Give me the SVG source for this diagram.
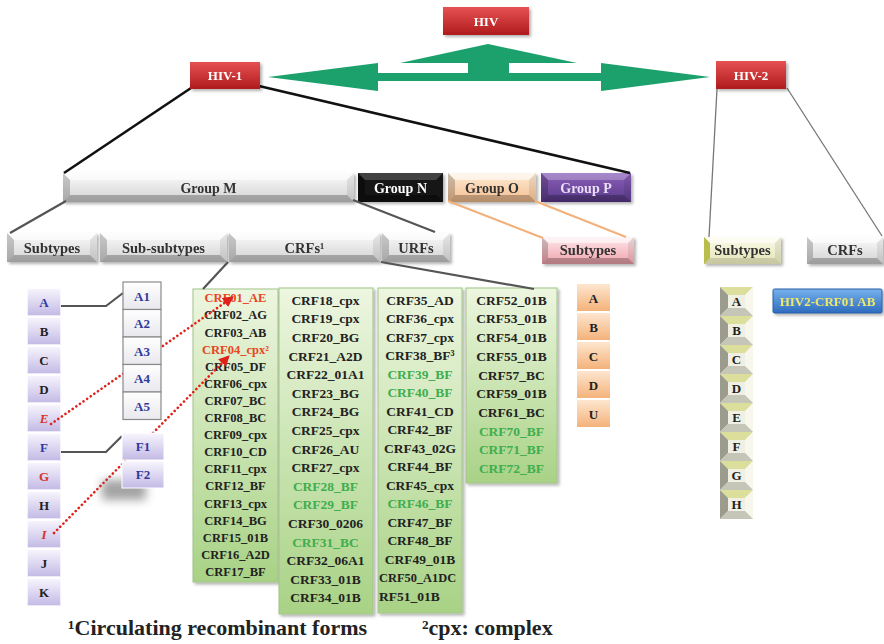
<svg xmlns="http://www.w3.org/2000/svg" xmlns:xlink="http://www.w3.org/1999/xlink" width="884" height="644" viewBox="0 0 884 644">
<style>
text{font-family:"Liberation Serif","Times New Roman",serif;font-weight:bold;text-anchor:middle}
.lb{font-size:14px;fill:#333}
.l2{font-size:14.5px;fill:#333}
.wh{fill:#fff}
.ltr{font-size:13px;fill:#222}
.blu{fill:#2f3a9e}
.red{fill:#d8322a}
.c1{font-size:12.5px;fill:#222}
.c2{font-size:13.5px;fill:#222}
.gr{fill:#3fae4e}
.or{fill:#e8461e}
.wt{fill:#fff;fill-opacity:.55}
.wl{fill:#000;fill-opacity:.2}
.wr{fill:#000;fill-opacity:.08}
.wb{fill:#000;fill-opacity:.25}
.ln{fill:none;stroke:#555;stroke-width:2.2}
.blk{fill:none;stroke:#111;stroke-width:2.6}
.thin{fill:none;stroke:#777;stroke-width:1.3}
.orl{fill:none;stroke:#f2b07a;stroke-width:2}
.dot{fill:none;stroke:#e0201a;stroke-width:2.6;stroke-dasharray:0.1 4.3;stroke-linecap:round}
.foot{font-size:22px;fill:#222;text-anchor:start}
</style>
<defs>
<linearGradient id="gRed" x1="0" y1="0" x2="0" y2="1"><stop offset="0" stop-color="#e65252"/><stop offset="1" stop-color="#b01a1c"/></linearGradient>
<linearGradient id="gGray" x1="0" y1="0" x2="0" y2="1"><stop offset="0" stop-color="#fbfbfb"/><stop offset="1" stop-color="#d2d2d2"/></linearGradient>
<linearGradient id="gPeach" x1="0" y1="0" x2="0" y2="1"><stop offset="0" stop-color="#fdecd8"/><stop offset="1" stop-color="#f5bd8c"/></linearGradient>
<linearGradient id="gPurple" x1="0" y1="0" x2="0" y2="1"><stop offset="0" stop-color="#8a60b8"/><stop offset="1" stop-color="#5a398b"/></linearGradient>
<linearGradient id="gPink" x1="0" y1="0" x2="0" y2="1"><stop offset="0" stop-color="#fde8ea"/><stop offset="1" stop-color="#f0a2ac"/></linearGradient>
<linearGradient id="gOlive" x1="0" y1="0" x2="0" y2="1"><stop offset="0" stop-color="#fbfbea"/><stop offset="1" stop-color="#e3e3b6"/></linearGradient>
<linearGradient id="gOrange" x1="0" y1="0" x2="0" y2="1"><stop offset="0" stop-color="#fde6cf"/><stop offset="1" stop-color="#f4b27a"/></linearGradient>
<linearGradient id="gLav" x1="0" y1="0" x2="0" y2="1"><stop offset="0" stop-color="#f8f6fd"/><stop offset="1" stop-color="#c3b9e5"/></linearGradient>
<linearGradient id="gGreen" x1="0" y1="0" x2="0" y2="1"><stop offset="0" stop-color="#edf6e0"/><stop offset="1" stop-color="#a8d285"/></linearGradient>
<linearGradient id="gBlue" x1="0" y1="0" x2="0" y2="1"><stop offset="0" stop-color="#78b2ec"/><stop offset="1" stop-color="#2d6bbe"/></linearGradient>
<linearGradient id="gWhite" x1="0" y1="0" x2="0" y2="1"><stop offset="0" stop-color="#ffffff"/><stop offset="1" stop-color="#e8e8ee"/></linearGradient>
<filter id="sh" x="-20%" y="-20%" width="150%" height="150%"><feDropShadow dx="2" dy="2" stdDeviation="1.5" flood-color="#000" flood-opacity=".3"/></filter>
<filter id="blur" x="-50%" y="-50%" width="200%" height="200%"><feGaussianBlur stdDeviation="5"/></filter>
<marker id="arr" viewBox="0 0 10 10" refX="9" refY="5" markerWidth="11" markerHeight="11" markerUnits="userSpaceOnUse" orient="auto"><path d="M0,0L10,5L0,10z" fill="#e0201a"/></marker>
<g id="tile">
<rect width="33" height="29" fill="#efefe3"/>
<polygon points="0,0 33,0 25,8 8,8" fill="#dcdf9c"/>
<polygon points="0,0 8,8 8,21 0,29" fill="#9b9b8e"/>
<polygon points="33,0 33,29 25,21 25,8" fill="#f7f7ee"/>
<polygon points="0,29 8,21 25,21 33,29" fill="#c6c6b8"/>
</g>
<g id="lav"><rect width="34" height="28" fill="url(#gLav)"/><rect x="0.5" y="0.5" width="33" height="27" fill="none" stroke="#fff" stroke-opacity=".7"/></g>
<g id="org"><rect width="33" height="27" fill="url(#gOrange)"/></g>
</defs>

<rect width="884" height="644" fill="#fff"/>

<!-- CRF columns -->
<g id="crf-col1">
<rect x="193" y="289" width="85" height="293" fill="url(#gGreen)" stroke="#a2c488" filter="url(#sh)"/>
<text class="c1 or" x="235.5" y="302.3">CRF01_AE</text>
<text class="c1" x="235.5" y="319.4">CRF02_AG</text>
<text class="c1" x="235.5" y="336.5">CRF03_AB</text>
<text class="c1 or" x="235.5" y="353.6">CRF04_cpx²</text>
<text class="c1" x="235.5" y="370.7">CRF05_DF</text>
<text class="c1" x="235.5" y="387.8">CRF06_cpx</text>
<text class="c1" x="235.5" y="404.9">CRF07_BC</text>
<text class="c1" x="235.5" y="422">CRF08_BC</text>
<text class="c1" x="235.5" y="439.1">CRF09_cpx</text>
<text class="c1" x="235.5" y="456.2">CRF10_CD</text>
<text class="c1" x="235.5" y="473.3">CRF11_cpx</text>
<text class="c1" x="235.5" y="490.4">CRF12_BF</text>
<text class="c1" x="235.5" y="507.5">CRF13_cpx</text>
<text class="c1" x="235.5" y="524.6">CRF14_BG</text>
<text class="c1" x="235.5" y="541.7">CRF15_01B</text>
<text class="c1" x="235.5" y="558.8">CRF16_A2D</text>
<text class="c1" x="235.5" y="575.9">CRF17_BF</text>
</g>
<g id="crf-col2">
<rect x="279" y="288" width="94" height="326" fill="url(#gGreen)" stroke="#a2c488" filter="url(#sh)"/>
<text class="c2" x="325.5" y="304.7">CRF18_cpx</text>
<text class="c2" x="325.5" y="323.3">CRF19_cpx</text>
<text class="c2" x="325.5" y="341.9">CRF20_BG</text>
<text class="c2" x="325.5" y="360.5">CRF21_A2D</text>
<text class="c2" x="325.5" y="379.1">CRF22_01A1</text>
<text class="c2" x="325.5" y="397.7">CRF23_BG</text>
<text class="c2" x="325.5" y="416.3">CRF24_BG</text>
<text class="c2" x="325.5" y="434.9">CRF25_cpx</text>
<text class="c2" x="325.5" y="453.5">CRF26_AU</text>
<text class="c2" x="325.5" y="472.1">CRF27_cpx</text>
<text class="c2 gr" x="325.5" y="490.7">CRF28_BF</text>
<text class="c2 gr" x="325.5" y="509.3">CRF29_BF</text>
<text class="c2" x="325.5" y="527.9">CRF30_0206</text>
<text class="c2 gr" x="325.5" y="546.5">CRF31_BC</text>
<text class="c2" x="325.5" y="565.1">CRF32_06A1</text>
<text class="c2" x="325.5" y="583.7">CRF33_01B</text>
<text class="c2" x="325.5" y="602.3">CRF34_01B</text>
</g>
<g id="crf-col3">
<rect x="378" y="288" width="84" height="325" fill="url(#gGreen)" stroke="#a2c488" filter="url(#sh)"/>
<text class="c2" x="420" y="304.7">CRF35_AD</text>
<text class="c2" x="420" y="323.2">CRF36_cpx</text>
<text class="c2" x="420" y="341.7">CRF37_cpx</text>
<text class="c2" x="420" y="360.2">CRF38_BF³</text>
<text class="c2 gr" x="420" y="378.7">CRF39_BF</text>
<text class="c2 gr" x="420" y="397.2">CRF40_BF</text>
<text class="c2" x="420" y="415.7">CRF41_CD</text>
<text class="c2" x="420" y="434.2">CRF42_BF</text>
<text class="c2" x="420" y="452.7">CRF43_02G</text>
<text class="c2" x="420" y="471.2">CRF44_BF</text>
<text class="c2" x="420" y="489.7">CRF45_cpx</text>
<text class="c2 gr" x="420" y="508.2">CRF46_BF</text>
<text class="c2" x="420" y="526.7">CRF47_BF</text>
<text class="c2" x="420" y="545.2">CRF48_BF</text>
<text class="c2" x="420" y="563.7">CRF49_01B</text>
<text class="c2" x="379" y="582.2" style="text-anchor:start;font-size:12.4px">CRF50_A1DC</text>
<text class="c2" x="379" y="600.7" style="text-anchor:start">RF51_01B</text>
</g>
<g id="crf-col4">
<rect x="466" y="288" width="91" height="195" fill="url(#gGreen)" stroke="#a2c488" filter="url(#sh)"/>
<text class="c2" x="511.5" y="304.7">CRF52_01B</text>
<text class="c2" x="511.5" y="323.4">CRF53_01B</text>
<text class="c2" x="511.5" y="342.1">CRF54_01B</text>
<text class="c2" x="511.5" y="360.8">CRF55_01B</text>
<text class="c2" x="511.5" y="379.5">CRF57_BC</text>
<text class="c2" x="511.5" y="398.2">CRF59_01B</text>
<text class="c2" x="511.5" y="416.9">CRF61_BC</text>
<text class="c2 gr" x="511.5" y="435.6">CRF70_BF</text>
<text class="c2 gr" x="511.5" y="454.3">CRF71_BF</text>
<text class="c2 gr" x="511.5" y="473">CRF72_BF</text>
</g>

<!-- Group row -->
<g id="group-m" filter="url(#sh)">
<rect x="63" y="173" width="291" height="29" fill="url(#gGray)"/>
<polygon class="wt" points="63,173 354,173 347,180 70,180"/>
<polygon class="wl" points="63,173 70,180 70,195 63,202"/>
<polygon class="wr" points="354,173 354,202 347,195 347,180"/>
<polygon class="wb" points="63,202 70,195 347,195 354,202"/>
<text class="lb" x="208.5" y="192.5">Group M</text>
</g>
<g id="group-n" filter="url(#sh)">
<rect x="358" y="173" width="85" height="29" fill="#151515"/>
<polygon class="wt" style="fill-opacity:.2" points="358,173 443,173 436,180 365,180"/>
<polygon class="wl" points="358,173 365,180 365,195 358,202"/>
<polygon class="wr" points="443,173 443,202 436,195 436,180"/>
<polygon class="wb" points="358,202 365,195 436,195 443,202"/>
<text class="lb wh" x="400.5" y="192.5">Group N</text>
</g>
<g id="group-o" filter="url(#sh)">
<rect x="448" y="173" width="88" height="29" fill="url(#gPeach)"/>
<polygon class="wt" points="448,173 536,173 529,180 455,180"/>
<polygon class="wl" points="448,173 455,180 455,195 448,202"/>
<polygon class="wr" points="536,173 536,202 529,195 529,180"/>
<polygon class="wb" points="448,202 455,195 529,195 536,202"/>
<text class="lb" x="492" y="192.5">Group O</text>
</g>
<g id="group-p" filter="url(#sh)">
<rect x="541" y="173" width="90" height="29" fill="url(#gPurple)"/>
<polygon class="wt" style="fill-opacity:.25" points="541,173 631,173 624,180 548,180"/>
<polygon class="wl" points="541,173 548,180 548,195 541,202"/>
<polygon class="wr" points="631,173 631,202 624,195 624,180"/>
<polygon class="wb" points="541,202 548,195 624,195 631,202"/>
<text class="lb" style="fill:#e8dff5" x="586" y="192.5">Group P</text>
</g>

<!-- second row -->
<g id="m-subtypes" filter="url(#sh)">
<rect x="7" y="233" width="90" height="29" fill="url(#gGray)"/>
<polygon class="wt" points="7,233 97,233 90,240 14,240"/>
<polygon class="wl" points="7,233 14,240 14,255 7,262"/>
<polygon class="wr" points="97,233 97,262 90,255 90,240"/>
<polygon class="wb" points="7,262 14,255 90,255 97,262"/>
<text class="l2" x="52" y="252.5">Subtypes</text>
</g>
<g id="m-subsubtypes" filter="url(#sh)">
<rect x="100" y="233" width="127" height="29" fill="url(#gGray)"/>
<polygon class="wt" points="100,233 227,233 220,240 107,240"/>
<polygon class="wl" points="100,233 107,240 107,255 100,262"/>
<polygon class="wr" points="227,233 227,262 220,255 220,240"/>
<polygon class="wb" points="100,262 107,255 220,255 227,262"/>
<text class="l2" x="163.5" y="252.5">Sub-subtypes</text>
</g>
<g id="m-crfs" filter="url(#sh)">
<rect x="229" y="233" width="151" height="29" fill="url(#gGray)"/>
<polygon class="wt" points="229,233 380,233 373,240 236,240"/>
<polygon class="wl" points="229,233 236,240 236,255 229,262"/>
<polygon class="wr" points="380,233 380,262 373,255 373,240"/>
<polygon class="wb" points="229,262 236,255 373,255 380,262"/>
<text class="l2" x="304.5" y="252.5">CRFs¹</text>
</g>
<g id="m-urfs" filter="url(#sh)">
<rect x="382" y="233" width="68" height="29" fill="url(#gGray)"/>
<polygon class="wt" points="382,233 450,233 443,240 389,240"/>
<polygon class="wl" points="382,233 389,240 389,255 382,262"/>
<polygon class="wr" points="450,233 450,262 443,255 443,240"/>
<polygon class="wb" points="382,262 389,255 443,255 450,262"/>
<text class="l2" x="416" y="252.5">URFs</text>
</g>
<g id="o-subtypes" filter="url(#sh)">
<rect x="542" y="237" width="92" height="27" fill="url(#gPink)"/>
<polygon class="wt" points="542,237 634,237 628,243 548,243"/>
<polygon class="wl" points="542,237 548,243 548,258 542,264"/>
<polygon class="wr" points="634,237 634,264 628,258 628,243"/>
<polygon class="wb" points="542,264 548,258 628,258 634,264"/>
<text class="l2" x="588" y="255">Subtypes</text>
</g>
<g id="hiv2-subtypes" filter="url(#sh)">
<rect x="704" y="237" width="77" height="27" fill="url(#gOlive)"/>
<polygon class="wt" points="704,237 781,237 775,243 710,243"/>
<polygon points="704,237 710,243 710,258 704,264" fill="#b9bd4e"/>
<polygon class="wr" points="781,237 781,264 775,258 775,243"/>
<polygon class="wb" style="fill-opacity:.12" points="704,264 710,258 775,258 781,264"/>
<text class="l2" x="742.5" y="255">Subtypes</text>
</g>
<g id="hiv2-crfs" filter="url(#sh)">
<rect x="807" y="237" width="76" height="27" fill="url(#gGray)"/>
<polygon class="wt" points="807,237 883,237 877,243 813,243"/>
<polygon class="wl" points="807,237 813,243 813,258 807,264"/>
<polygon class="wr" points="883,237 883,264 877,258 877,243"/>
<polygon class="wb" points="807,264 813,258 877,258 883,264"/>
<text class="l2" x="845" y="255">CRFs</text>
</g>

<!-- Subtypes of group M -->
<g id="st-A"><use xlink:href="#lav" x="27" y="288"/><text class="ltr blu" x="44" y="307">A</text></g>
<g id="st-B"><use xlink:href="#lav" x="27" y="317"/><text class="ltr" x="44" y="336">B</text></g>
<g id="st-C"><use xlink:href="#lav" x="27" y="346"/><text class="ltr" x="44" y="365">C</text></g>
<g id="st-D"><use xlink:href="#lav" x="27" y="375"/><text class="ltr" x="44" y="394">D</text></g>
<g id="st-E"><use xlink:href="#lav" x="27" y="404"/><text class="ltr red" font-style="italic" x="44" y="423">E</text></g>
<g id="st-F"><use xlink:href="#lav" x="27" y="433"/><text class="ltr blu" x="44" y="452">F</text></g>
<g id="st-G"><use xlink:href="#lav" x="27" y="462"/><text class="ltr red" x="44" y="481">G</text></g>
<g id="st-H"><use xlink:href="#lav" x="27" y="491"/><text class="ltr" x="44" y="510">H</text></g>
<g id="st-I"><use xlink:href="#lav" x="27" y="520"/><text class="ltr red" font-style="italic" x="44" y="539">I</text></g>
<g id="st-J"><use xlink:href="#lav" x="27" y="549"/><text class="ltr" x="44" y="568">J</text></g>
<g id="st-K"><use xlink:href="#lav" x="27" y="578"/><text class="ltr" x="44" y="597">K</text></g>

<!-- connectors -->
<g id="connectors">
<polygon points="268,77 378,63 378,73 468,73 468,63 400,63 488,44 577,63 509,63 509,73 601,73 601,63 710,77 601,91 601,81 378,81 378,91" fill="#1ca16c"/>
<line class="blk" x1="191" y1="88" x2="64" y2="173"/>
<line class="blk" x1="259" y1="86" x2="630" y2="173"/>
<line class="thin" x1="717" y1="89" x2="709" y2="237"/>
<line class="thin" x1="787" y1="88" x2="882" y2="236"/>
<line class="ln" x1="66" y1="201" x2="10" y2="233"/>
<line class="ln" x1="353" y1="200" x2="435" y2="232"/>
<line class="orl" x1="448" y1="201" x2="543" y2="238"/>
<line class="orl" x1="535" y1="201" x2="626" y2="237"/>
<line class="ln" x1="228" y1="262" x2="203" y2="289"/>
<line class="ln" x1="381" y1="262" x2="534" y2="289"/>
<polyline class="ln" points="61,306 106,306 123,293"/>
<polyline class="ln" points="61,452 106,452 122,436"/>
<line class="dot" x1="51" y1="424" x2="233" y2="297" marker-end="url(#arr)"/>
<line class="dot" x1="54" y1="533" x2="229" y2="356" marker-end="url(#arr)"/>
</g>

<!-- sub-subtypes -->
<g id="ss-A1"><rect x="123" y="282" width="38" height="27.5" fill="url(#gWhite)" stroke="#8a8a8a" stroke-width="1.2"/><text class="ltr blu" x="142" y="300.5">A1</text></g>
<g id="ss-A2"><rect x="123" y="309.5" width="38" height="27.5" fill="url(#gWhite)" stroke="#8a8a8a" stroke-width="1.2"/><text class="ltr blu" x="142" y="328">A2</text></g>
<g id="ss-A3"><rect x="123" y="337" width="38" height="27.5" fill="url(#gWhite)" stroke="#8a8a8a" stroke-width="1.2"/><text class="ltr blu" x="142" y="355.5">A3</text></g>
<g id="ss-A4"><rect x="123" y="364.5" width="38" height="27.5" fill="url(#gWhite)" stroke="#8a8a8a" stroke-width="1.2"/><text class="ltr blu" x="142" y="383">A4</text></g>
<g id="ss-A5"><rect x="123" y="392" width="38" height="27.5" fill="url(#gWhite)" stroke="#8a8a8a" stroke-width="1.2"/><text class="ltr blu" x="142" y="410.5">A5</text></g>
<rect x="102" y="480" width="44" height="20" fill="#666" opacity=".6" filter="url(#blur)"/>
<g id="ss-F1"><rect x="122" y="433" width="42" height="27" fill="url(#gLav)" stroke="#fff"/><text class="ltr blu" x="143" y="451">F1</text></g>
<g id="ss-F2"><rect x="122" y="461" width="42" height="27" fill="url(#gLav)" stroke="#fff"/><text class="ltr blu" x="143" y="479">F2</text></g>

<!-- Group O subtypes -->
<g id="o-A"><use xlink:href="#org" x="577" y="284"/><text class="ltr" x="593.5" y="302.5">A</text></g>
<g id="o-B"><use xlink:href="#org" x="577" y="313"/><text class="ltr" x="593.5" y="331.5">B</text></g>
<g id="o-C"><use xlink:href="#org" x="577" y="342"/><text class="ltr" x="593.5" y="360.5">C</text></g>
<g id="o-D"><use xlink:href="#org" x="577" y="371"/><text class="ltr" x="593.5" y="389.5">D</text></g>
<g id="o-U"><use xlink:href="#org" x="577" y="400"/><text class="ltr" x="593.5" y="418.5">U</text></g>

<!-- HIV-2 subtypes -->
<g id="h2-A"><use xlink:href="#tile" x="720" y="287"/><text class="ltr" x="736.5" y="306">A</text></g>
<g id="h2-B"><use xlink:href="#tile" x="720" y="316"/><text class="ltr" x="736.5" y="335">B</text></g>
<g id="h2-C"><use xlink:href="#tile" x="720" y="345"/><text class="ltr" x="736.5" y="364">C</text></g>
<g id="h2-D"><use xlink:href="#tile" x="720" y="374"/><text class="ltr" x="736.5" y="393">D</text></g>
<g id="h2-E"><use xlink:href="#tile" x="720" y="403"/><text class="ltr" x="736.5" y="422">E</text></g>
<g id="h2-F"><use xlink:href="#tile" x="720" y="432"/><text class="ltr" x="736.5" y="451">F</text></g>
<g id="h2-G"><use xlink:href="#tile" x="720" y="461"/><text class="ltr" x="736.5" y="480">G</text></g>
<g id="h2-H"><use xlink:href="#tile" x="720" y="490"/><text class="ltr" x="736.5" y="509">H</text></g>

<g id="hiv2-crf01" filter="url(#sh)"><rect x="773" y="289" width="109" height="24" rx="1.5" fill="url(#gBlue)" stroke="#2a5fa8"/><text x="827.5" y="305.5" style="font-size:13px;fill:#efe866">HIV2-CRF01 AB</text></g>

<!-- red top nodes -->
<g id="hiv" filter="url(#sh)"><rect x="443" y="7" width="86" height="28" fill="url(#gRed)"/><text class="wh" style="font-size:13px" x="486" y="26">HIV</text></g>
<g id="hiv1" filter="url(#sh)"><rect x="190" y="62" width="70" height="27" fill="url(#gRed)"/><text class="wh" style="font-size:13px" x="225" y="80">HIV-1</text></g>
<g id="hiv2" filter="url(#sh)"><rect x="716" y="61" width="70" height="28" fill="url(#gRed)"/><text class="wh" style="font-size:13px" x="751" y="80">HIV-2</text></g>

<!-- footnotes -->
<text class="foot" x="68" y="635">¹Circulating recombinant forms</text>
<text class="foot" x="422" y="635">²cpx: complex</text>
</svg>
